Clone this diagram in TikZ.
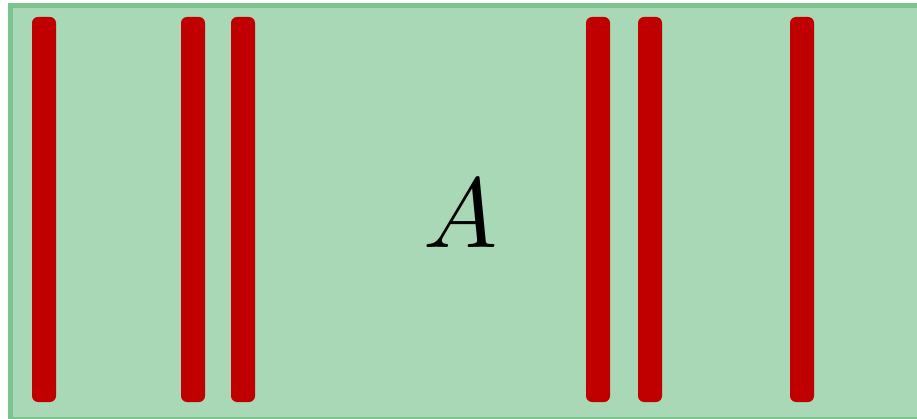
\documentclass[tikz,border=0pt]{standalone}
\usepackage{tikz}
\usepackage{graphicx}
\definecolor{gfill}{HTML}{A9D8B6}
\definecolor{gline}{HTML}{7DC392}
\definecolor{rbar}{HTML}{C00000}
\tikzset{
  redbar/.style={fill=rbar, draw=none, rounded corners=6pt, minimum width=24pt, minimum height=385pt, inner sep=0pt},
  panel/.style={fill=gfill, draw=gline, line width=5pt}
}
\begin{document}
\begin{tikzpicture}[x=1pt,y=-1pt]
\useasboundingbox (0,0) rectangle (917,419);
\begin{scope}
\clip (0,0) rectangle (917,419);
\node[panel, minimum width=930pt, minimum height=413pt, inner sep=0pt, anchor=north west] (panel) at (7.5,3.5) {};
\end{scope}
\node[redbar] (b1) at (44,209.5) {};
\node[redbar] (b2) at (193,209.5) {};
\node[redbar] (b3) at (243,209.5) {};
\node[redbar] (b4) at (598,209.5) {};
\node[redbar] (b5) at (650,209.5) {};
\node[redbar] (b6) at (802,209.5) {};
\node[inner sep=0pt, anchor=base] (lbl) at (461,248) {\scalebox{9.9}{$A$}};
\end{tikzpicture}
\end{document}
